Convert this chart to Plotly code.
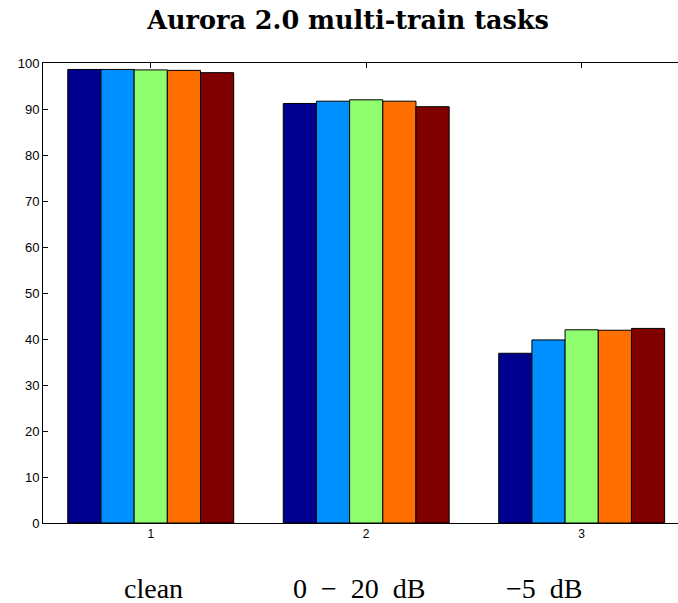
import plotly.graph_objects as go

# Recognition accuracy (%) for each test condition, five systems
groups = [1, 2, 3]
conditions = ["clean", "0 \u2212 20 dB", "\u22125 dB"]
sys1 = [98.6, 91.2, 36.9]
sys2 = [98.6, 91.7, 39.8]
sys3 = [98.5, 92.0, 42.0]
sys4 = [98.4, 91.7, 41.9]
sys5 = [97.9, 90.5, 42.3]
y_ticks = list(range(0, 101, 10))

series = [sys1, sys2, sys3, sys4, sys5]
colors = ["#00008F", "#008FFF", "#8FFF70", "#FF7000", "#800000"]

fig = go.Figure()
for i, (vals, col) in enumerate(zip(series, colors)):
    fig.add_trace(go.Bar(
        x=groups, y=vals, name=f"System {i + 1}",
        marker=dict(color=col, line=dict(color="black", width=1)),
        showlegend=False,
    ))

# condition names sit under the numeric ticks
label_x = [1.015, 1.966, 2.825]
for xv, txt in zip(label_x, conditions):
    fig.add_annotation(
        x=xv, xref="x", y=-0.143, yref="paper", yanchor="middle",
        text=txt.replace(" ", "\u2002"), showarrow=False,
        font=dict(family="Liberation Serif", size=28, color="black"),
    )

fig.update_layout(
    width=678, height=603,
    margin=dict(l=43, r=0, t=63, b=80),
    paper_bgcolor="white", plot_bgcolor="white",
    barmode="group", bargap=0.23, bargroupgap=0,
    title=dict(
        text="<b>Aurora 2.0 multi-train tasks</b>",
        x=348 / 678, xref="container", xanchor="center",
        y=1 - 20 / 603, yref="container", yanchor="middle",
        font=dict(family="DejaVu Serif", size=25.5, color="black"),
    ),
    xaxis=dict(
        range=[0.5, 3.447], tickvals=groups, ticktext=[str(g) for g in groups],
        ticks="inside", ticklen=5, tickcolor="black",
        showline=True, linecolor="black", linewidth=1, mirror="ticks",
        showgrid=False, zeroline=False, layer="below traces",
        tickfont=dict(family="Liberation Sans", size=12, color="black"),
    ),
    yaxis=dict(
        range=[0, 100], tickvals=y_ticks,
        ticks="inside", ticklen=5, tickcolor="black",
        showline=True, linecolor="black", linewidth=1,
        showgrid=False, zeroline=False,
        tickfont=dict(family="Liberation Sans", size=13, color="black"),
    ),
)

fig.write_html("out.html")
